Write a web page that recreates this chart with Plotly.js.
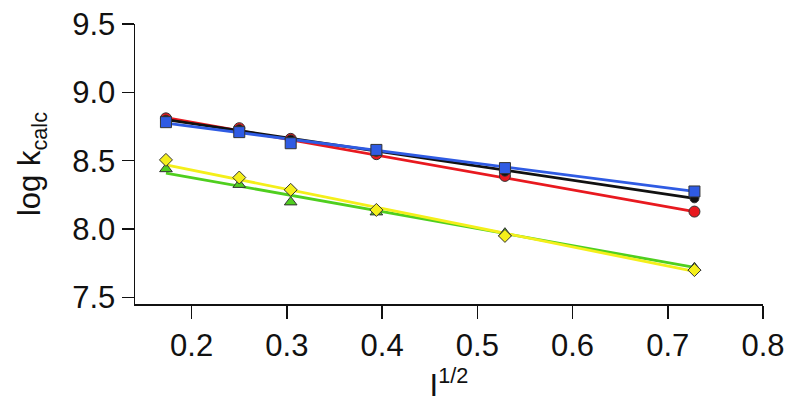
<!DOCTYPE html>
<html>
<head>
<meta charset="utf-8">
<script src="https://cdn.plot.ly/plotly-3.0.1.min.js"></script>
<style>html,body{margin:0;padding:0;background:#fff;}#chart{width:800px;height:406px;}</style>
</head>
<body>
<div id="chart"></div>
<script>
// I^(1/2) values
const xVals = [0.173, 0.25, 0.304, 0.394, 0.529, 0.728];
// log k_calc series
const redY    = [8.81, 8.738, 8.66, 8.548, 8.389, 8.128];
const blackY  = [8.80, 8.73, 8.655, 8.565, 8.42, 8.225];
const blueY   = [8.782, 8.709, 8.628, 8.579, 8.446, 8.275];
const greenY  = [8.44, 8.325, 8.197, 8.124, 7.97, 7.717];
const yellowY = [8.506, 8.377, 8.287, 8.14, 7.95, 7.70];
// linear fit lines (end values)
const fitX = [0.173, 0.728];
const redFit    = [8.815, 8.128];
const blackFit  = [8.80, 8.225];
const blueFit   = [8.775, 8.275];
const greenFit  = [8.41, 7.72];
const yellowFit = [8.47, 7.69];
const xTicks = [0.2, 0.3, 0.4, 0.5, 0.6, 0.7, 0.8];
const yTicks = [7.5, 8.0, 8.5, 9.0, 9.5];

const C = {red:'#e8191f', black:'#111111', blue:'#2f5be3', green:'#4fcf1f', yellow:'#f4ef1a'};
const outline = {color:'#333', width:1};

function fit(y, c){ return {x:fitX, y:y, mode:'lines', line:{color:c, width:2.8}, hoverinfo:'skip'}; }
function pts(y, c, sym, size){ return {x:xVals, y:y, mode:'markers', marker:{color:c, symbol:sym, size:size, line:outline}}; }

const data = [
  fit(greenFit, C.green),
  fit(yellowFit, C.yellow),
  fit(redFit, C.red),
  fit(blackFit, C.black),
  fit(blueFit, C.blue),
  pts(redY, C.red, 'circle', 11),
  pts(blackY, C.black, 'circle', 9),
  pts(blueY, C.blue, 'square', 11),
  pts(greenY, C.green, 'triangle-up', 11),
  pts(yellowY, C.yellow, 'diamond', 10)
];

const font = {family:'"Liberation Sans", Arial, Helvetica, sans-serif', color:'#111'};
const layout = {
  width:800, height:406,
  margin:{l:135, r:37, t:24, b:102},
  paper_bgcolor:'#fff', plot_bgcolor:'#fff',
  showlegend:false,
  font:font,
  xaxis:{
    range:[0.1405, 0.8], tickvals:xTicks, ticktext:xTicks.map(v=>v.toFixed(1)),
    showgrid:false, zeroline:false, showline:true, linecolor:'#111', linewidth:1.5,
    ticks:'outside', ticklen:13, tickwidth:1.5, tickcolor:'#111',
    tickfont:{size:31, family:font.family, color:'#111'},
    title:{text:'I<sup>1/2</sup>', font:{size:31, family:font.family, color:'#111'}, standoff:2}
  },
  yaxis:{
    range:[7.452, 9.5], tickvals:yTicks, ticktext:yTicks.map(v=>v.toFixed(1)),
    showgrid:false, zeroline:false, showline:true, linecolor:'#111', linewidth:1.5,
    ticks:'outside', ticklen:12, tickwidth:1.5, tickcolor:'#111',
    tickfont:{size:31, family:font.family, color:'#111'},
    title:{text:'log k<sub>calc</sub>', font:{size:31, family:font.family, color:'#111'}, standoff:22}
  }
};

Plotly.newPlot('chart', data, layout, {displayModeBar:false, staticPlot:true});
</script>
</body>
</html>
